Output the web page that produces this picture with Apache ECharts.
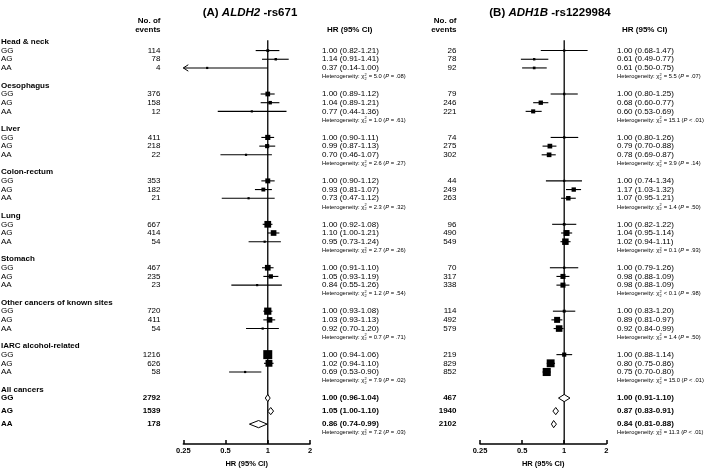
<!DOCTYPE html>
<html><head><meta charset="utf-8">
<script src="https://cdn.jsdelivr.net/npm/echarts@6/dist/echarts.min.js"></script>
<style>html,body{margin:0;padding:0;background:#fff}#c{width:709px;height:473px}</style>
</head><body><div id="c"></div>
<script>
const groups = ['Head & neck','Oesophagus','Liver','Colon-rectum','Lung','Stomach','Other cancers of known sites','IARC alcohol-related','All cancers'];
const genotypes = ['GG','AG','AA'];
const xTicks = [0.25, 0.5, 1, 2];

// Panel A: ALDH2 rs671
const aEvents = [[114,78,4],[376,158,12],[411,218,22],[353,182,21],[667,414,54],[467,235,23],[720,411,54],[1216,626,58],[2792,1539,178]];
const aHR = [[1.00,1.14,0.37],[1.00,1.04,0.77],[1.00,0.99,0.70],[1.00,0.93,0.73],[1.00,1.10,0.95],[1.00,1.05,0.84],[1.00,1.03,0.92],[1.00,1.02,0.69],[1.00,1.05,0.86]];
const aLo = [[0.82,0.91,0.14],[0.89,0.89,0.44],[0.90,0.87,0.46],[0.90,0.81,0.47],[0.92,1.00,0.73],[0.91,0.93,0.55],[0.93,0.93,0.70],[0.94,0.94,0.53],[0.96,1.00,0.74]];
const aHi = [[1.21,1.41,1.00],[1.12,1.21,1.36],[1.11,1.13,1.07],[1.12,1.07,1.12],[1.08,1.21,1.24],[1.10,1.19,1.26],[1.08,1.13,1.20],[1.06,1.10,0.90],[1.04,1.10,0.99]];
const aChi = ['= 5.0','= 1.0','= 2.6','= 2.3','= 2.7','= 1.2','= 0.7','= 7.9','= 7.2'];
const aP = ['= .08','= .61','= .27','= .32','= .26','= .54','= .71','= .02','= .03'];

// Panel B: ADH1B rs1229984
const bEvents = [[26,78,92],[79,246,221],[74,275,302],[44,249,263],[96,490,549],[70,317,338],[114,492,579],[219,829,852],[467,1940,2102]];
const bHR = [[1.00,0.61,0.61],[1.00,0.68,0.60],[1.00,0.79,0.78],[1.00,1.17,1.07],[1.00,1.04,1.02],[1.00,0.98,0.98],[1.00,0.89,0.92],[1.00,0.80,0.75],[1.00,0.87,0.84]];
const bLo = [[0.68,0.49,0.50],[0.80,0.60,0.53],[0.80,0.70,0.69],[0.74,1.03,0.95],[0.82,0.95,0.94],[0.79,0.88,0.88],[0.83,0.81,0.84],[0.88,0.75,0.70],[0.91,0.83,0.81]];
const bHi = [[1.47,0.77,0.75],[1.25,0.77,0.69],[1.26,0.88,0.87],[1.34,1.32,1.21],[1.22,1.14,1.11],[1.26,1.09,1.09],[1.20,0.97,0.99],[1.14,0.86,0.80],[1.10,0.91,0.88]];
const bChi = ['= 5.5','= 15.1','= 3.9','= 1.4','= 0.1','< 0.1','= 1.4','= 15.0','= 11.3'];
const bP = ['= .07','< .01','= .14','= .50','= .93','= .98','= .50','< .01','< .01'];

const FONT = '"Liberation Sans", Arial, Helvetica, sans-serif';
const XMIN = 0.25, XMAX = 2, YMIN = -0.2, YMAX = 46.3;
const mctx = document.createElement('canvas').getContext('2d');
function tw(text, font) { mctx.font = font; return mctx.measureText(text).width; }
function txt(x, y, text, font, align) {
  return {type: 'text', x: x, y: y, style: {text: text, font: font, fill: '#000', align: align || 'left', verticalAlign: 'middle'}};
}
function rowUnit(g, k) { // k: -1 header, 0..2 genotype rows, 3 heterogeneity
  if (g < 8) return 5 * g + 1 + k;
  return [40, 41, 42.5, 44, 44.95][k + 1];
}
function fmtHR(h, l, u) { return h.toFixed(2) + ' (' + l.toFixed(2) + '-' + u.toFixed(2) + ')'; }
function hetEls(x, y, chi, p) {
  const f = '5.8px ' + FONT, fs = '3.8px ' + FONT, fi = 'italic 5.8px ' + FONT;
  const els = [];
  let t = 'Heterogeneity: \u03c7';
  els.push(txt(x, y, t, f)); x += tw(t, f);
  els.push(txt(x + 0.2, y - 1.9, '2', fs)); els.push(txt(x + 0.2, y + 2.0, '2', fs));
  x += tw('2', fs) + 0.6;
  t = ' ' + chi + ' ('; els.push(txt(x, y, t, f)); x += tw(t, f);
  els.push(txt(x, y, 'P', fi)); x += tw('P', fi);
  t = ' ' + p + ')'; els.push(txt(x, y, t, f));
  return els;
}

const panels = [
  {ev: aEvents, hr: aHR, lo: aLo, hi: aHi, chi: aChi, p: aP, labels: true, evX: 160.5, hrX: 322},
  {ev: bEvents, hr: bHR, lo: bLo, hi: bHi, chi: bChi, p: bP, labels: false, evX: 456.5, hrX: 617}
];

function forestRender(params, api) {
  const hr = api.value(0), y = api.value(1), lo = api.value(2), hi = api.value(3), sum = api.value(4);
  const c = api.coord([hr, y]);
  const children = [];
  if (sum) {
    const h = 3.6;
    const l = api.coord([lo, y])[0], r = api.coord([hi, y])[0];
    children.push({type: 'polygon', shape: {points: [[l, c[1]], [c[0], c[1] - h], [r, c[1]], [c[0], c[1] + h]]},
      style: {fill: '#fff', stroke: '#000', lineWidth: 1}});
  } else {
    const pl = api.coord([Math.max(lo, XMIN), y]), ph = api.coord([Math.min(hi, XMAX), y]);
    children.push({type: 'line', shape: {x1: pl[0], y1: pl[1], x2: ph[0], y2: ph[1]}, style: {stroke: '#000', lineWidth: 1.1}});
    if (lo < XMIN) {
      children.push({type: 'polyline', shape: {points: [[pl[0] + 5, pl[1] - 3.2], [pl[0], pl[1]], [pl[0] + 5, pl[1] + 3.2]]},
        style: {stroke: '#000', fill: null, lineWidth: 1}});
    }
    const s = Math.min(12, Math.max(2.2, 1.08 / Math.log(hi / lo)));
    children.push({type: 'rect', shape: {x: c[0] - s / 2, y: c[1] - s / 2, width: s, height: s}, style: {fill: '#000'}});
  }
  return {type: 'group', children: children};
}

function makeTextRender(P) {
  return function (params, api) {
    const y = api.coord([1, api.value(1)])[1];
    const g = api.value(2), k = api.value(3);
    const f = (g === 8 ? 'bold ' : '') + '8px ' + FONT;
    let els = [];
    if (k === -1) {
      if (P.labels) els.push(txt(1, y, groups[g], 'bold 8px ' + FONT));
    } else if (k === 3) {
      els = hetEls(P.hrX, y, P.chi[g], P.p[g]);
    } else {
      if (P.labels) els.push(txt(1, y, genotypes[k], f));
      els.push(txt(P.evX, y, String(P.ev[g][k]), f, 'right'));
      els.push(txt(P.hrX, y, fmtHR(P.hr[g][k], P.lo[g][k], P.hi[g][k]), f));
    }
    return {type: 'group', children: els};
  };
}

const grids = [
  {left: 183.3, top: 40.14, width: 126.7, height: 409.2},
  {left: 480, top: 40.14, width: 126.3, height: 409.2}
];
const xAxes = [], yAxes = [], series = [];
panels.forEach(function (P, i) {
  xAxes.push({type: 'log', logBase: 2, min: XMIN, max: XMAX, gridIndex: i, position: 'bottom',
    axisLine: {onZero: false, lineStyle: {color: '#000', width: 1.5}},
    axisTick: {inside: true, length: 4, lineStyle: {color: '#000', width: 1.5}},
    splitLine: {show: false},
    axisLabel: {color: '#000', fontWeight: 'bold', fontSize: 7.5, fontFamily: FONT, margin: 3,
      formatter: function (v) { return String(+(+v).toFixed(2)); }},
    name: 'HR (95% CI)', nameLocation: 'middle', nameGap: 15,
    nameTextStyle: {color: '#000', fontWeight: 'bold', fontSize: 7.5, fontFamily: FONT}});
  yAxes.push({type: 'value', gridIndex: i, inverse: true, min: YMIN, max: YMAX, show: false});
  series.push({type: 'line', xAxisIndex: i, yAxisIndex: i, data: [[1, YMIN], [1, YMAX]], symbol: 'none',
    lineStyle: {color: '#000', width: 1.3}, silent: true, z: 1});
  const fd = [], td = [];
  for (let g = 0; g < 9; g++) {
    td.push([1, rowUnit(g, -1), g, -1]);
    for (let k = 0; k < 3; k++) {
      fd.push([P.hr[g][k], rowUnit(g, k), P.lo[g][k], P.hi[g][k], g === 8 ? 1 : 0]);
      td.push([1, rowUnit(g, k), g, k]);
    }
    td.push([1, rowUnit(g, 3), g, 3]);
  }
  series.push({type: 'custom', xAxisIndex: i, yAxisIndex: i, renderItem: forestRender, data: fd, z: 3, clip: false, silent: true});
  series.push({type: 'custom', xAxisIndex: i, yAxisIndex: i, renderItem: makeTextRender(P), data: td, z: 4, clip: false, silent: true});
});

function header(x, y, text, align) {
  return {type: 'text', x: x, y: y, style: {text: text, font: 'bold 8px ' + FONT, fill: '#000', align: align, verticalAlign: 'middle'}};
}
function title(x, pre, gene, post) {
  return {type: 'text', x: x, y: 13, style: {
    text: '{b|' + pre + '}{i|' + gene + '}{b|' + post + '}', align: 'center', verticalAlign: 'middle',
    rich: {b: {fontSize: 11.5, fontWeight: 'bold', fontFamily: FONT, fill: '#000'},
           i: {fontSize: 11.5, fontWeight: 'bold', fontStyle: 'italic', fontFamily: FONT, fill: '#000'}}}};
}

const chart = echarts.init(document.getElementById('c'), null, {renderer: 'canvas'});
chart.setOption({
  animation: false,
  backgroundColor: '#fff',
  grid: grids, xAxis: xAxes, yAxis: yAxes, series: series,
  graphic: [
    title(250, '(A) ', 'ALDH2', ' -rs671'),
    title(550, '(B) ', 'ADH1B', ' -rs1229984'),
    header(160.5, 21, 'No. of', 'right'), header(160.5, 30, 'events', 'right'),
    header(456.5, 21, 'No. of', 'right'), header(456.5, 30, 'events', 'right'),
    header(327, 30, 'HR (95% CI)', 'left'), header(622, 30, 'HR (95% CI)', 'left')
  ]
});
</script></body></html>
